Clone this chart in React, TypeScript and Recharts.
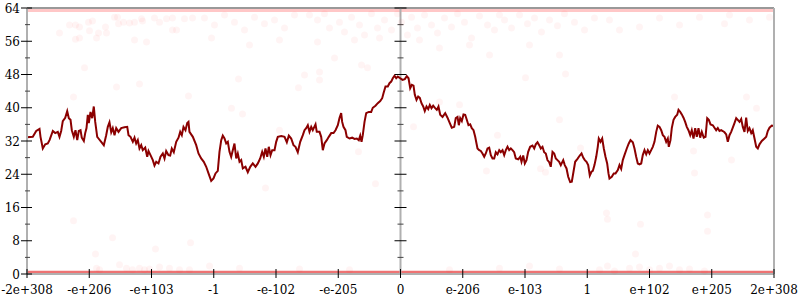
import { ComposedChart, Line, Scatter, XAxis, YAxis, ReferenceLine } from 'recharts';

// x runs over the float ordering: one unit per labelled tick, 0 in the middle
const xTicks = [-6, -5, -4, -3, -2, -1, 0, 1, 2, 3, 4, 5, 6];
const xLabels = ['-2e+308', '-e+206', '-e+103', '-1', '-e-102', '-e-205', '0', 'e-206', 'e-103', '1', 'e+102', 'e+205', '2e+308'];
const yTicks = [0, 4, 8, 12, 16, 20, 24, 28, 32, 36, 40, 44, 48, 52, 56, 60, 64];

const negLarge = [
  [-6.0, 32.9], [-5.907, 33.0], [-5.852, 34.4], [-5.799, 34.9], [-5.783, 33.0], [-5.746, 30.2], [-5.707, 31.2], [-5.666, 31.4],
  [-5.638, 32.2], [-5.585, 34.4], [-5.547, 33.9], [-5.505, 34.2], [-5.478, 33.0], [-5.451, 34.4], [-5.425, 36.8], [-5.386, 37.6],
  [-5.354, 39.2], [-5.328, 37.5], [-5.301, 37.1], [-5.28, 34.6], [-5.248, 33.0], [-5.221, 34.6], [-5.193, 32.2], [-5.168, 34.4],
  [-5.14, 34.6], [-5.12, 32.8], [-5.087, 32.0], [-5.065, 33.9], [-5.044, 35.1], [-5.023, 38.3], [-5.007, 36.3], [-4.98, 39.0],
  [-4.953, 37.5], [-4.927, 40.3], [-4.904, 36.6], [-4.872, 33.0], [-4.851, 32.6], [-4.808, 31.8], [-4.766, 31.0], [-4.728, 33.4],
  [-4.702, 35.4], [-4.675, 36.5], [-4.647, 34.1], [-4.622, 35.1], [-4.594, 33.4], [-4.567, 35.1], [-4.53, 34.2], [-4.487, 35.1],
  [-4.434, 35.3], [-4.39, 35.4], [-4.369, 33.4], [-4.337, 33.0], [-4.3, 31.8], [-4.273, 32.8], [-4.246, 31.4], [-4.22, 32.2],
  [-4.193, 30.2], [-4.165, 31.0], [-4.14, 29.8], [-4.101, 30.4], [-4.069, 28.2], [-4.048, 29.6], [-4.016, 28.6], [-3.979, 27.4],
  [-3.952, 26.1], [-3.924, 27.0], [-3.888, 26.6], [-3.855, 28.2], [-3.818, 29.0], [-3.791, 27.8], [-3.764, 29.6], [-3.727, 28.6],
  [-3.7, 28.5], [-3.674, 30.2], [-3.642, 29.3], [-3.603, 31.8], [-3.566, 32.8], [-3.539, 34.2], [-3.513, 33.4], [-3.486, 35.4],
  [-3.454, 34.6], [-3.426, 36.3], [-3.406, 36.6], [-3.39, 34.2], [-3.336, 33.0], [-3.282, 31.0], [-3.245, 29.0], [-3.202, 27.8],
  [-3.16, 27.0], [-3.121, 25.8], [-3.084, 24.2], [-3.041, 22.4], [-3.004, 23.0],
];
const negSmall = [
  [-2.972, 24.2], [-2.935, 24.8], [-2.908, 29.4], [-2.88, 32.2], [-2.855, 33.3], [-2.827, 32.6], [-2.8, 31.4], [-2.774, 31.8],
  [-2.747, 29.4], [-2.72, 28.2], [-2.694, 29.8], [-2.667, 31.4], [-2.639, 27.8], [-2.614, 29.0], [-2.586, 27.0], [-2.559, 27.4],
  [-2.533, 25.4], [-2.49, 25.8], [-2.453, 24.5], [-2.414, 25.8], [-2.373, 26.6], [-2.329, 25.8], [-2.292, 26.6], [-2.254, 27.8],
  [-2.222, 29.4], [-2.196, 28.2], [-2.169, 30.2], [-2.141, 28.2], [-2.116, 30.6], [-2.088, 28.6], [-2.061, 29.8], [-2.024, 29.8],
  [-1.997, 31.8], [-1.971, 33.0], [-1.916, 33.2], [-1.863, 33.0], [-1.826, 31.7], [-1.794, 33.3], [-1.756, 32.6], [-1.719, 31.0],
  [-1.687, 30.6], [-1.65, 29.3], [-1.611, 31.8], [-1.569, 33.4], [-1.542, 34.6], [-1.515, 35.1], [-1.489, 35.8], [-1.462, 34.2],
  [-1.434, 35.4], [-1.409, 34.6], [-1.365, 36.0], [-1.345, 34.2], [-1.301, 34.2], [-1.274, 33.0], [-1.248, 29.8], [-1.221, 31.4],
  [-1.184, 32.2], [-1.152, 33.0], [-1.113, 33.9], [-1.076, 33.9], [-1.044, 34.6], [-1.007, 35.8], [-0.98, 37.5], [-0.953, 38.7],
  [-0.937, 36.6], [-0.916, 35.4], [-0.884, 34.6], [-0.863, 33.0], [-0.819, 32.6], [-0.776, 32.8], [-0.739, 32.5], [-0.702, 32.6],
  [-0.67, 32.2], [-0.647, 33.3], [-0.626, 31.8], [-0.606, 33.4], [-0.578, 36.6], [-0.551, 38.7], [-0.509, 39.0], [-0.471, 39.0],
  [-0.445, 40.0], [-0.402, 40.5], [-0.365, 41.1], [-0.326, 41.6], [-0.294, 42.3], [-0.273, 43.5], [-0.241, 45.1], [-0.204, 45.1],
  [-0.177, 45.9], [-0.149, 46.3], [-0.124, 47.1], [-0.096, 47.7], [-0.069, 47.1], [-0.043, 47.5], [-0.005, 47.1],
];
const posSmall = [
  [0.032, 46.7], [0.069, 46.9], [0.101, 47.6], [0.129, 47.1], [0.156, 44.7], [0.182, 45.5], [0.209, 45.3], [0.23, 43.1],
  [0.257, 41.9], [0.284, 42.7], [0.31, 42.4], [0.337, 41.1], [0.365, 40.3], [0.39, 39.2], [0.418, 40.3], [0.445, 39.7],
  [0.471, 40.7], [0.498, 39.9], [0.525, 40.5], [0.557, 39.9], [0.583, 39.5], [0.61, 40.3], [0.638, 38.3], [0.675, 37.8],
  [0.718, 38.7], [0.755, 37.6], [0.792, 36.3], [0.824, 35.2], [0.863, 35.4], [0.888, 37.5], [0.916, 37.8], [0.937, 35.8],
  [0.959, 37.5], [0.985, 36.8], [1.012, 38.4], [1.039, 38.3], [1.065, 37.1], [1.092, 35.8], [1.12, 36.0], [1.145, 35.1],
  [1.173, 34.6], [1.2, 33.0], [1.221, 31.4], [1.237, 30.2], [1.264, 29.8], [1.29, 29.6], [1.317, 29.0], [1.345, 28.2],
  [1.37, 29.0], [1.398, 30.2], [1.425, 30.4], [1.451, 28.6], [1.478, 27.8], [1.505, 27.8], [1.531, 29.3], [1.558, 28.8],
  [1.586, 29.8], [1.611, 29.3], [1.639, 29.8], [1.666, 28.6], [1.692, 29.8], [1.719, 30.6], [1.746, 29.8], [1.772, 30.2],
  [1.799, 29.8], [1.826, 29.3], [1.852, 27.8], [1.891, 27.6], [1.923, 28.2], [1.944, 27.0], [1.971, 28.5], [1.997, 26.6],
  [2.024, 27.4], [2.051, 29.4], [2.083, 30.6], [2.12, 30.9], [2.148, 30.2], [2.173, 31.2], [2.201, 31.7], [2.228, 31.0],
  [2.254, 30.2], [2.281, 30.6], [2.308, 29.3], [2.334, 29.0], [2.361, 27.4], [2.389, 26.9], [2.414, 25.8], [2.442, 29.4],
  [2.469, 29.0], [2.495, 27.8], [2.522, 27.4], [2.549, 27.0], [2.575, 26.2], [2.614, 27.4], [2.639, 26.2], [2.667, 25.4],
  [2.694, 23.4], [2.726, 22.1], [2.752, 22.2], [2.779, 24.6], [2.806, 27.0], [2.843, 27.7], [2.88, 28.5], [2.908, 29.0],
  [2.935, 28.0], [2.961, 27.4], [2.988, 27.0], [3.015, 26.2], [3.041, 23.7], [3.068, 24.6],
];
const posLarge = [
  [3.089, 24.8], [3.116, 26.2], [3.144, 28.2], [3.169, 30.6], [3.185, 32.6], [3.213, 31.8], [3.24, 32.6], [3.266, 30.2],
  [3.293, 28.2], [3.32, 26.6], [3.341, 24.2], [3.357, 23.0], [3.394, 23.4], [3.426, 24.2], [3.454, 24.2], [3.491, 25.0],
  [3.518, 26.2], [3.545, 25.3], [3.571, 27.4], [3.598, 28.6], [3.635, 30.2], [3.667, 31.4], [3.695, 32.2], [3.732, 31.7],
  [3.759, 30.2], [3.786, 28.2], [3.812, 26.6], [3.839, 26.4], [3.867, 26.6], [3.892, 28.6], [3.92, 29.8], [3.947, 28.8],
  [3.973, 29.8], [4.0, 29.0], [4.027, 29.8], [4.053, 30.6], [4.08, 31.8], [4.108, 34.2], [4.133, 35.7], [4.161, 35.4],
  [4.188, 34.6], [4.214, 33.4], [4.241, 33.0], [4.268, 31.8], [4.294, 32.6], [4.31, 30.6], [4.337, 32.2], [4.358, 35.1],
  [4.386, 37.1], [4.413, 37.8], [4.445, 38.3], [4.466, 39.5], [4.493, 39.0], [4.519, 38.4], [4.546, 37.6], [4.573, 36.6],
  [4.599, 35.4], [4.626, 34.6], [4.654, 33.4], [4.679, 34.6], [4.707, 32.6], [4.734, 35.1], [4.76, 33.0], [4.787, 35.1],
  [4.814, 32.8], [4.84, 34.2], [4.872, 32.8], [4.9, 33.0], [4.927, 37.5], [4.953, 37.1], [4.98, 36.0], [5.017, 35.8],
  [5.044, 35.2], [5.071, 34.6], [5.097, 35.1], [5.124, 34.4], [5.152, 34.6], [5.177, 34.4], [5.205, 34.1], [5.232, 33.6],
  [5.258, 31.8], [5.285, 33.4], [5.312, 34.2], [5.338, 35.2], [5.365, 36.3], [5.393, 37.5], [5.418, 37.1], [5.446, 36.6],
  [5.473, 37.3], [5.499, 35.4], [5.526, 34.2], [5.553, 37.6], [5.579, 34.4], [5.606, 35.1], [5.634, 33.9], [5.659, 34.6],
  [5.687, 32.6], [5.714, 30.6], [5.74, 30.2], [5.767, 31.2], [5.804, 32.0], [5.847, 32.6], [5.875, 33.0], [5.9, 34.4],
  [5.928, 35.2], [5.965, 35.7], [5.992, 35.6],
];

// faint samples: the cloud just under 64, the one just over 0, and the strays between
const topCloud = [
  [-5.478, 58.0], [-5.317, 59.9], [-5.221, 59.9], [-5.157, 59.4], [-5.012, 60.6], [-4.948, 60.9], [-5.221, 56.5], [-5.157, 56.8],
  [-4.996, 58.5], [-4.851, 58.0], [-4.883, 56.8], [-4.739, 59.4], [-4.723, 58.0], [-4.594, 61.8], [-4.546, 61.8], [-4.53, 60.2],
  [-4.45, 60.6], [-4.353, 60.4], [-4.273, 60.6], [-4.273, 56.3], [-4.16, 61.4], [-4.144, 60.9], [-4.08, 55.8], [-3.952, 61.6],
  [-3.871, 60.6], [-3.759, 61.4], [-3.663, 61.6], [-3.663, 58.7], [-3.598, 58.7], [-3.47, 61.4], [-3.341, 61.6],
  [-3.149, 61.6], [-2.988, 59.9], [-2.827, 62.3], [-2.667, 60.6], [-2.506, 58.7], [-2.345, 61.8], [-2.185, 60.2], [-2.024, 61.1],
  [-1.863, 59.2], [-1.703, 62.3], [-3.036, 56.8], [-2.426, 55.1], [-1.944, 56.3],
  [-1.462, 62.3], [-1.333, 61.1], [-1.221, 62.6], [-1.141, 59.2], [-0.98, 60.6], [-0.9, 58.2], [-0.787, 61.8], [-0.659, 59.9],
  [-0.578, 57.5], [-0.466, 62.6], [-0.369, 59.2], [-0.257, 61.1], [-0.145, 58.7], [-0.048, 62.6], [0.016, 60.6], [0.112, 57.5],
  [0.177, 61.8], [0.273, 59.2], [0.386, 62.3], [0.498, 59.9], [0.594, 58.0], [0.707, 61.6], [0.819, 59.4], [0.916, 62.6],
  [1.028, 60.6], [1.141, 56.8], [1.269, 62.1], [1.398, 59.9], [1.51, 58.7], [1.59, 62.3], [-1.333, 55.8], [-1.06, 52.0],
  [-0.739, 56.3], [-0.626, 50.3], [-0.337, 56.8], [0.305, 56.3], [0.626, 54.4], [1.108, 55.1], [1.43, 52.7], [-1.542, 47.9],
  [-1.301, 46.7], [1.671, 61.1], [1.783, 59.2], [1.912, 62.3], [2.04, 60.2], [2.153, 61.6], [2.265, 58.2], [2.394, 61.1],
  [2.522, 59.7], [2.634, 62.6], [2.795, 60.6], [2.956, 58.7], [3.116, 61.6], [2.072, 55.1], [2.554, 52.7],
  [3.357, 61.1], [3.839, 59.4], [4.161, 61.6], [4.803, 61.8], [5.205, 60.2], [5.285, 62.3], [5.606, 61.1], [5.928, 61.8],
  [3.518, 58.7], [4.482, 59.9],
];
const bottomCloud = [
  [-4.883, 1.4], [-4.835, 1.0], [-4.514, 2.2], [-4.402, 1.4], [-4.305, 1.0], [-4.193, 1.4], [-4.112, 1.0], [-4.032, 1.2],
  [-3.871, 1.7], [-3.711, 1.4], [-3.55, 1.0], [-3.39, 1.0], [-3.068, 1.9], [-2.586, 1.4], [-1.622, 1.2], [-0.819, 1.0],
  [0.787, 1.0], [1.59, 1.4], [2.072, 1.9], [2.554, 1.2], [3.197, 1.0], [3.325, 1.9], [3.438, 0.7], [3.679, 1.4],
  [3.839, 1.7], [4.0, 1.0], [4.161, 1.4], [4.321, 1.9], [4.482, 1.0], [4.643, 1.2], [4.883, 0.7],
];
const strays = [
  [-5.076, 49.6], [-4.562, 45.0], [-4.193, 45.7], [-5.253, 42.6], [-3.406, 42.8], [-5.253, 12.8], [-4.626, 8.7], [-4.9, 4.8],
  [-3.936, 6.0], [-3.373, 7.5], [3.309, 14.7], [3.325, 13.2], [3.855, 12.0], [4.932, 14.2], [4.932, 10.3], [3.775, 4.8],
  [-2.602, 46.9], [-1.639, 44.8], [-2.715, 39.9], [-2.538, 38.5], [-1.944, 34.6], [-1.301, 48.6], [-0.53, 49.6], [-0.675, 29.4],
  [-0.402, 21.7], [-2.169, 20.7], [2.008, 47.2], [2.651, 48.1], [0.626, 41.4], [0.948, 40.7], [0.209, 35.4], [1.558, 33.4],
  [2.554, 37.1], [2.892, 30.3], [1.381, 24.8], [2.249, 25.3], [2.329, 24.5], [4.402, 42.6], [5.558, 42.6], [5.719, 39.9],
  [5.317, 27.4], [4.723, 24.3], [4.707, 29.6],
];

const lineData = [...negLarge, ...negSmall, ...posSmall, ...posLarge].map(([x, y]) => ({ x, y }));
const cloudData = [...topCloud, ...bottomCloud, ...strays].map(([x, y]) => ({ x, y }));

const FONT = 'DejaVu Serif';
const AXIS_GREY = '#b0b0b0';
// recharts default tickSize 6 + tickMargin 2
const OFF = 8;

const LeftTick = ({ x, y, payload }: any) => {
  const ax = x + OFF;
  const major = payload.value % 8 === 0;
  return (
    <g>
      {major ? (
        <line x1={ax - 6} x2={ax + 5} y1={y} y2={y} stroke="#000" />
      ) : (
        <line x1={ax - 2} x2={ax + 3} y1={y} y2={y} stroke="#444" />
      )}
      {major && (
        <text x={ax - 7} y={y + 4.5} textAnchor="end" fontFamily={FONT} fontSize={12} fill="#000">
          {payload.value}
        </text>
      )}
    </g>
  );
};

const RightTick = ({ x, y, payload }: any) => {
  const ax = x - OFF;
  const major = payload.value % 8 === 0;
  return major ? (
    <line x1={ax - 6} x2={ax + 5} y1={y} y2={y} stroke="#000" />
  ) : (
    <line x1={ax - 3} x2={ax + 2} y1={y} y2={y} stroke="#444" />
  );
};

const BottomTick = ({ x, y, payload, index }: any) => {
  const ay = y - OFF;
  return (
    <g>
      <line x1={x} x2={x} y1={ay - 5} y2={ay + 4} stroke="#000" />
      <text x={x} y={ay + 20} textAnchor="middle" fontFamily={FONT} fontSize={12} fill="#000">
        {xLabels[index] ?? payload.value}
      </text>
    </g>
  );
};

// the vertical axis through x = 0 carries the y ticks on both sides
const CenterAxis = (props: any) => {
  const { x1, y1, y2 } = props;
  const top = Math.min(y1, y2);
  const bottom = Math.max(y1, y2);
  return (
    <g>
      <line x1={x1} x2={x1} y1={top} y2={bottom} stroke={AXIS_GREY} strokeWidth={2} />
      {yTicks.map((v) => {
        const ty = bottom - ((bottom - top) * v) / 64;
        const major = v % 8 === 0;
        return (
          <line key={v} x1={x1 - (major ? 6 : 3)} x2={x1 + (major ? 6 : 3)} y1={ty} y2={ty} stroke={major ? '#000' : '#444'} />
        );
      })}
    </g>
  );
};

const Dot = (props: any) => (
  <circle cx={props.cx} cy={props.cy} r={3.5} fill="#ff0000" fillOpacity={0.045} />
);

export default function App() {
  return (
    <div style={{ position: 'absolute', left: 0, top: 0, width: 800, height: 300, background: '#fff' }}>
      <ComposedChart width={800} height={300} margin={{ top: 8, right: 0, left: 0, bottom: 0 }}>
        <XAxis
          type="number"
          dataKey="x"
          domain={[-6, 6]}
          ticks={xTicks}
          interval={0}
          height={26}
          axisLine={{ stroke: AXIS_GREY, strokeWidth: 2 }}
          tickLine={false}
          tick={<BottomTick />}
        />
        <YAxis
          type="number"
          dataKey="y"
          domain={[0, 64]}
          ticks={yTicks}
          interval={0}
          width={27}
          axisLine={{ stroke: AXIS_GREY, strokeWidth: 2 }}
          tickLine={false}
          tick={<LeftTick />}
        />
        <YAxis
          yAxisId="r"
          orientation="right"
          type="number"
          domain={[0, 64]}
          ticks={yTicks}
          interval={0}
          width={26}
          axisLine={{ stroke: AXIS_GREY, strokeWidth: 2 }}
          tickLine={false}
          tick={<RightTick />}
        />
        <ReferenceLine y={63.5} stroke="#ff0000" strokeOpacity={0.22} strokeWidth={4} />
        <ReferenceLine y={64} stroke="#999" strokeWidth={2} />
        <ReferenceLine y={0.4} stroke="#e00000" strokeOpacity={0.55} strokeWidth={3} />
        <ReferenceLine x={0} shape={<CenterAxis />} />
        <Scatter data={cloudData} dataKey="y" shape={<Dot />} isAnimationActive={false} />
        <Line
          data={lineData}
          dataKey="y"
          type="linear"
          stroke="#8b0000"
          strokeWidth={2}
          dot={false}
          activeDot={false}
          isAnimationActive={false}
        />
      </ComposedChart>
    </div>
  );
}
